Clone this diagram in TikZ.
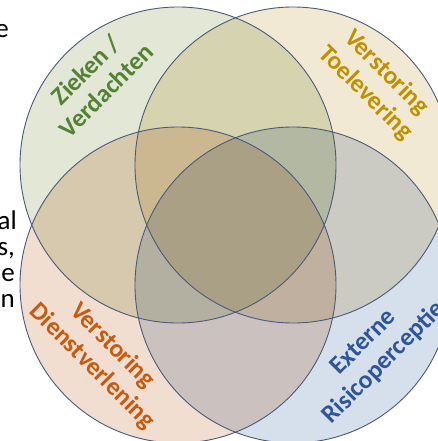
\documentclass[tikz,border=0pt]{standalone}
\usepackage{fontspec}
\setmainfont{Carlito}
\definecolor{ringline}{RGB}{74,90,120}
\definecolor{zieken}{RGB}{226,231,214}
\definecolor{toelever}{RGB}{242,233,212}
\definecolor{dienst}{RGB}{242,222,208}
\definecolor{extern}{RGB}{214,223,236}
\definecolor{ziekentext}{RGB}{84,130,53}
\definecolor{toelevertext}{RGB}{191,144,0}
\definecolor{diensttext}{RGB}{197,90,17}
\definecolor{externtext}{RGB}{47,85,151}
\begin{document}
\begin{tikzpicture}[
    x=1pt, y=-1pt,
    ring/.style={draw=ringline, line width=0.9pt},
    setname/.style={align=center, font=\fontsize{25.5}{29}\selectfont\bfseries},
    fragment/.style={anchor=base east, inner sep=0pt, font=\fontsize{27}{30}\selectfont}
]
    \useasboundingbox (0, 0) rectangle (438, 441);
    \clip (0, 0) rectangle (438, 441);
    \fill[white] (0, 0) rectangle (438, 441);

    % Text cut off at the left
    \node[fragment] (fragA) at (9, 38) {e};
    \node[fragment] (fragB) at (17, 229) {al};
    \node[fragment] (fragC) at (15, 255) {s,};
    \node[fragment] (fragD) at (15, 281) {e};
    \node[fragment] (fragE) at (15, 307) {n};

    % Circles
    \begin{scope}[blend group=multiply]
        \fill[zieken] (178, 165) circle (158);
        \fill[toelever] (293, 165) circle (158);
        \fill[dienst] (178, 285) circle (158);
        \fill[extern] (293, 285) circle (158);
    \end{scope}
    \foreach \cx/\cy in {178/165, 293/165, 178/285, 293/285} {
        \draw[ring] (\cx, \cy) circle (158);
    }

    % Labels
    \node[setname, rotate=45, text=ziekentext] (zieken) at (96, 80) {Zieken /\\Verdachten};
    \node[setname, rotate=-45, text=toelevertext] (toelever) at (376, 83) {Verstoring\\Toelevering};
    \node[setname, rotate=-45, text=diensttext] (dienst) at (102, 356) {Verstoring\\Dienstverlening};
    \node[setname, rotate=45, text=externtext] (extern) at (374, 353) {Externe\\Risicoperceptie};
\end{tikzpicture}
\end{document}
